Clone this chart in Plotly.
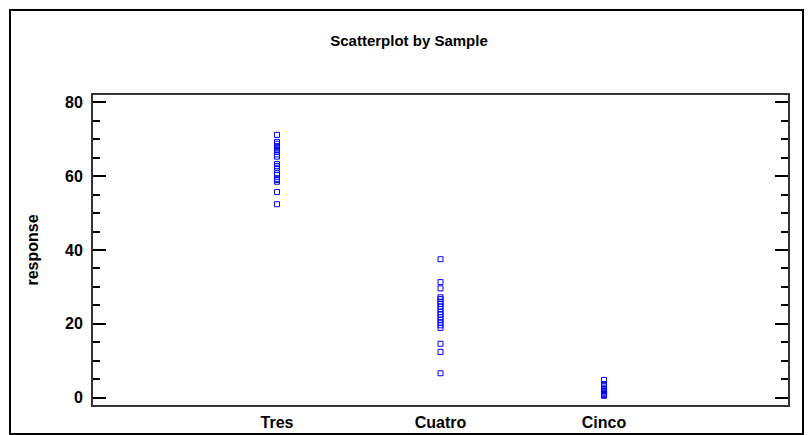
import plotly.graph_objects as go

categories = ["Tres", "Cuatro", "Cinco"]
tres = [71.2, 69.3, 68.8, 68.2, 67.7, 67.1, 66.6, 65.9, 65.3, 63.3, 62.8, 62.3,
        60.8, 60.3, 59.3, 59.0, 58.5, 55.7, 52.4]
cuatro = [37.5, 31.3, 29.6, 27.2, 26.7, 26.0, 25.4, 24.7, 24.0, 23.2, 22.5, 21.8,
          21.1, 20.3, 19.6, 18.9, 14.6, 12.4, 6.6]
cinco = [4.8, 3.7, 3.1, 2.7, 2.3, 2.0, 1.7, 1.4, 1.1, 0.9, 0.7, 0.5]
y_ticks = [0, 20, 40, 60, 80]

values = [tres, cuatro, cinco]
xs, ys = [], []
for c, v in zip(categories, values):
    xs += [c] * len(v)
    ys += v

fig = go.Figure()
fig.add_trace(go.Scatter(
    x=xs, y=ys, mode="markers",
    marker=dict(symbol="square-open", size=5, color="#0000FF",
                line=dict(width=1, color="#0000FF")),
    showlegend=False,
))

font_family = "Liberation Sans, Arial, sans-serif"
W, H = 812, 435
L, R, T, B = 93, 24, 95, 30
pw, ph = W - L - R, H - T - B

def px_x(p):
    return (p - L) / pw

def px_y(p):
    return (H - B - p) / ph

fig.update_layout(
    width=W, height=H,
    margin=dict(l=L, r=R, t=T, b=B, autoexpand=False),
    paper_bgcolor="white", plot_bgcolor="white",
    font=dict(family=font_family, size=16, color="black"),
    title=dict(text="<b>Scatterplot by Sample</b>", x=409 / W, xref="container",
               xanchor="center", y=1 - 41 / H, yref="container", yanchor="middle",
               font=dict(size=15, family=font_family, color="black")),
    xaxis=dict(
        type="category", categoryorder="array", categoryarray=categories,
        range=[-1.125, 3.125], showgrid=False, zeroline=False, automargin=False,
        showline=True, linecolor="#333333", linewidth=2, mirror=True,
        ticks="", ticklabelstandoff=2,
        tickfont=dict(size=16, family=font_family, color="black", weight="bold"),
    ),
    yaxis=dict(
        range=[-2, 82], tickvals=y_ticks, showgrid=False, zeroline=False, automargin=False,
        showline=True, linecolor="#333333", linewidth=2, mirror="ticks",
        ticks="inside", ticklen=13, tickwidth=1.5, tickcolor="black",
        minor=dict(dtick=5, tick0=0, ticks="inside", ticklen=7, tickwidth=1.5, tickcolor="black"),
        tickfont=dict(size=16, family=font_family, color="black", weight="bold"),
        ticklabelstandoff=5,
        title=dict(text="<b>response</b>", standoff=22,
                   font=dict(size=16, family=font_family, color="black")),
    ),
    shapes=[dict(type="rect", xref="paper", yref="paper",
                 x0=px_x(10), x1=px_x(803), y0=px_y(434), y1=px_y(10),
                 line=dict(color="black", width=2), fillcolor="rgba(0,0,0,0)")],
)

fig.write_html("out.html")
